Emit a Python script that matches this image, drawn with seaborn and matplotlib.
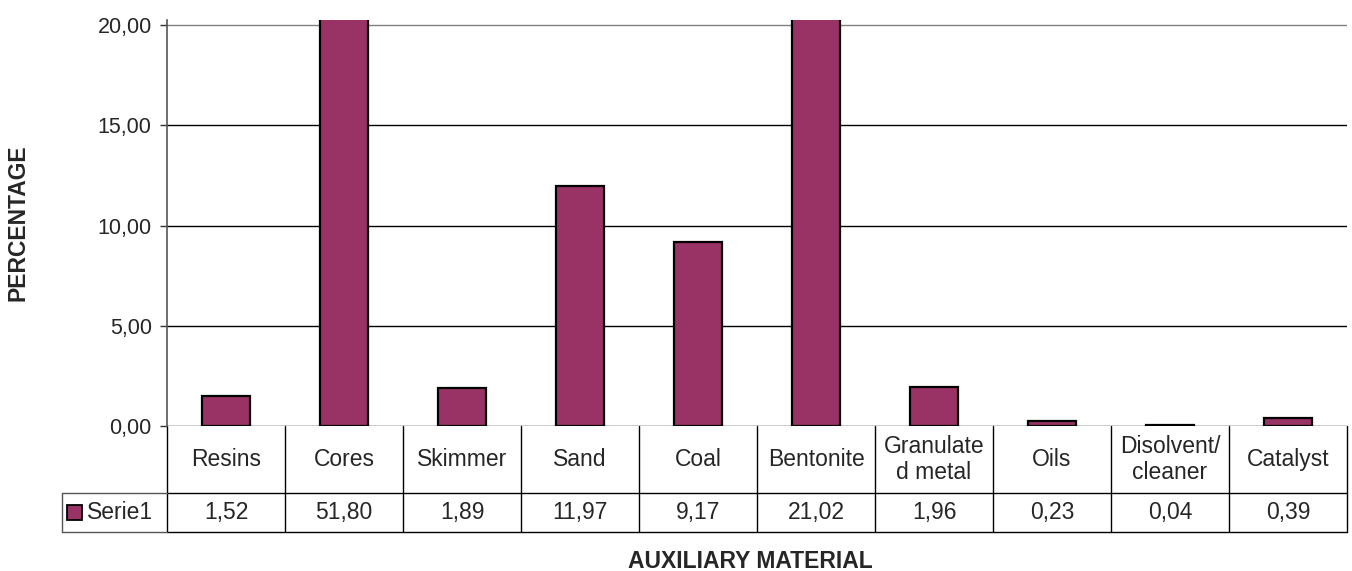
import numpy as np
import pandas as pd
import matplotlib
matplotlib.use('Agg')
import matplotlib.pyplot as plt
import seaborn as sns
from matplotlib.patches import Rectangle
from matplotlib.transforms import blended_transform_factory

materials = ['Resins', 'Cores', 'Skimmer', 'Sand', 'Coal', 'Bentonite',
             'Granulate\nd metal', 'Oils', 'Disolvent/\ncleaner', 'Catalyst']
percentages = [1.52, 51.80, 1.89, 11.97, 9.17, 21.02, 1.96, 0.23, 0.04, 0.39]
series_name = 'Serie1'
y_ticks = [0, 5, 10, 15, 20]

bar_color = '#993366'
fs = 16.5

sns.set_style('white')
plt.rcParams['font.family'] = ['Liberation Sans', 'DejaVu Sans']

df = pd.DataFrame({'material': materials, 'pct': percentages})

fig = plt.figure(figsize=(13.52, 5.71), dpi=100)
ax = fig.add_axes([167 / 1352, 1 - 426 / 571, 1180 / 1352, 406 / 571])

sns.barplot(data=df, x='material', y='pct', color=bar_color, edgecolor='black',
            linewidth=1.6, width=0.41, saturation=1, ax=ax)

ax.set_xlim(-0.5, len(materials) - 0.5)
ax.set_ylim(0, 20.25)
ax.set_yticks(y_ticks)
ax.set_yticklabels([f'{v:.2f}'.replace('.', ',') for v in y_ticks], fontsize=15.5)
ax.tick_params(axis='y', length=5, width=1, color='#333333', pad=6, left=True)
ax.set_xticks([])
ax.set_xlabel('')
ax.set_ylabel('')

for v in y_ticks:
    ax.axhline(v, color='#000000' if v < 20 else '#808080', lw=1, zorder=0)

for s in ['top', 'right', 'bottom']:
    ax.spines[s].set_visible(False)
ax.spines['left'].set_color('#555555')
ax.spines['left'].set_linewidth(1.2)

# data table below the axes
tr = blended_transform_factory(ax.transData, ax.transAxes)
row1 = -67 / 406
row2 = -106 / 406
n = len(materials)
line_kw = dict(color='black', lw=1, clip_on=False, transform=tr)
for i in range(n + 1):
    ax.plot([i - 0.5, i - 0.5], [0, row2], **line_kw)
ax.plot([-0.5, n - 0.5], [row1, row1], **line_kw)
ax.plot([-0.5, n - 0.5], [row2, row2], **line_kw)
# legend cell
left_cell = -0.5 - 105 / 118
ax.plot([left_cell, -0.5], [row1, row1], color='#555555', lw=1, clip_on=False, transform=tr)
ax.plot([left_cell, -0.5], [row2, row2], color='#555555', lw=1, clip_on=False, transform=tr)
ax.plot([left_cell, left_cell], [row1, row2], color='#555555', lw=1, clip_on=False, transform=tr)

for i, (m, p) in enumerate(zip(materials, percentages)):
    ax.text(i, (0 + row1) / 2, m, ha='center', va='center', fontsize=fs,
            linespacing=1.15, transform=tr)
    ax.text(i, (row1 + row2) / 2, f'{p:.2f}'.replace('.', ','), ha='center',
            va='center', fontsize=fs, transform=tr)

key = Rectangle((left_cell + 5 / 118, (row1 + row2) / 2 - 7 / 406), 15 / 118, 15 / 406,
                facecolor=bar_color, edgecolor='black', lw=1.3, clip_on=False, transform=tr)
ax.add_patch(key)
ax.text(left_cell + 25 / 118, (row1 + row2) / 2, series_name, ha='left', va='center',
        fontsize=fs, transform=tr)

fig.text(750 / 1352, 1 - 561 / 571, 'AUXILIARY MATERIAL', ha='center', va='center',
         fontsize=16.5, fontweight='bold')
fig.text(18 / 1352, 1 - 223 / 571, 'PERCENTAGE', ha='center', va='center',
         rotation=90, fontsize=16.5, fontweight='bold')

fig.savefig('out.png', dpi=100)
